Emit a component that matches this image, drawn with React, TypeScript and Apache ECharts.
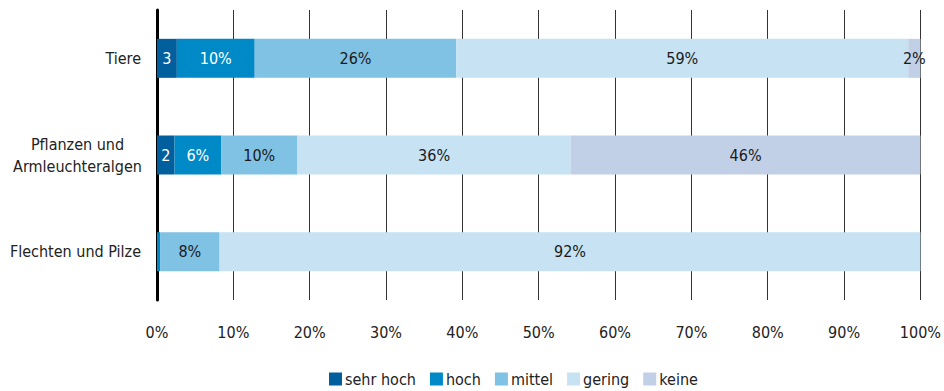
import React, { useEffect, useRef } from "react";
import * as echarts from "echarts";

const categories = ["Flechten und Pilze", "Pflanzen und\nArmleuchteralgen", "Tiere"];
const seriesNames = ["sehr hoch", "hoch", "mittel", "gering", "keine"];
const sehrHoch = [0, 2.3, 2.6];
const hoch = [0.4, 6.1, 10.2];
const mittel = [7.8, 10.0, 26.4];
const gering = [91.8, 35.8, 59.2];
const keine = [0, 45.8, 1.6];
const colors = ["#005f9c", "#0089c7", "#80c2e4", "#c6e2f3", "#c1d0e6"];
const labelColors = ["#ffffff", "#ffffff", "#1a1a1a", "#1a1a1a", "#1a1a1a"];
const xTicks = [0, 10, 20, 30, 40, 50, 60, 70, 80, 90, 100];

const FONT = "'Liberation Sans Narrow', 'DejaVu Sans Condensed', 'Arial Narrow', sans-serif";

export default function App() {
  const ref = useRef<HTMLDivElement>(null);

  useEffect(() => {
    if (!ref.current) return;
    const chart = echarts.init(ref.current, null, { renderer: "svg" });
    const values = [sehrHoch, hoch, mittel, gering, keine];

    chart.setOption({
      animation: false,
      textStyle: { fontFamily: FONT },
      grid: { left: 157, right: 18, top: 10, bottom: 91, containLabel: false },
      legend: {
        bottom: -1,
        left: 324,
        itemWidth: 13,
        itemHeight: 13,
        itemGap: 14,
        icon: "rect",
        data: seriesNames,
        textStyle: { fontFamily: FONT, fontSize: 16, color: "#222", padding: [0, 0, 0, -2] },
      },
      xAxis: {
        type: "value",
        min: xTicks[0],
        max: xTicks[xTicks.length - 1],
        interval: 10,
        axisLine: { show: false },
        axisTick: { show: false },
        axisLabel: {
          formatter: (v: number) => `${v}%`,
          fontFamily: FONT,
          fontSize: 16,
          color: "#222",
          margin: 24,
        },
        splitLine: { show: true, lineStyle: { color: "#333", width: 1 } },
      },
      yAxis: {
        type: "category",
        data: categories,
        axisLine: { show: true, lineStyle: { color: "#000", width: 3 } },
        axisTick: { show: false },
        axisLabel: {
          fontFamily: FONT,
          fontSize: 16,
          color: "#222",
          margin: 16,
          formatter: (v: string) => {
            if (v.includes("\n")) {
              return v
                .split("\n")
                .map((l) => `{c|${l}}`)
                .join("\n");
            }
            return v;
          },
          rich: {
            c: { width: 127, align: "center", fontFamily: FONT, fontSize: 16, color: "#222", lineHeight: 22 },
          },
        },
      },
      series: seriesNames.map((name, i) => ({
        name,
        type: "bar",
        stack: "total",
        barWidth: 39,
        data: values[i],
        itemStyle: { color: colors[i] },
        emphasis: { disabled: true },
        label: {
          show: true,
          position: "inside",
          fontFamily: FONT,
          fontSize: 16,
          color: labelColors[i],
          formatter: (p: any) => {
            const v = p.value as number;
            if (v < 1) return "";
            const r = Math.round(v);
            return i === 0 ? `${r}` : `${r}%`;
          },
        },
      })),
    });

    return () => chart.dispose();
  }, []);

  return (
    <div
      ref={ref}
      style={{ position: "fixed", left: 0, top: 0, width: 944, height: 391, background: "#fff" }}
    />
  );
}
